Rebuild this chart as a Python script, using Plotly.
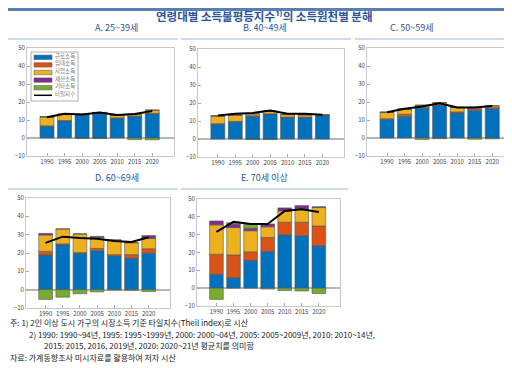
import plotly.graph_objects as go

years = [1990, 1995, 2000, 2005, 2010, 2015, 2020]
y_ticks = [-10, 0, 10, 20, 30, 40, 50]

series_names = ["근로소득", "임대소득", "사업소득", "재산소득", "기타소득"]
line_name = "타일지수"
panel_titles = ["A. 25~39세", "B. 40~49세", "C. 50~59세", "D. 60~69세", "E. 70세 이상"]

# Panel A: 25~39
a_labor = [6.5, 9.5, 12.9, 14.0, 11.0, 12.0, 13.5]
a_rent = [0.3, 0.2, 0.0, 0.0, 0.2, 0.2, 0.2]
a_biz = [5.0, 3.5, 0.3, 0.2, 1.3, 1.0, 1.8]
a_prop = [0, 0, 0, 0, 0, 0, 0]
a_other = [0, 0, -0.3, -0.3, 0, -0.9, -1.0]
a_theil = [11.5, 13.5, 13.0, 14.2, 12.8, 13.3, 15.0]

# Panel B: 40~49
b_labor = [8.2, 9.5, 12.7, 14.0, 12.0, 12.0, 13.0]
b_rent = [0.3, 0.3, 0.2, 0.0, 0.2, 0.2, 0.0]
b_biz = [4.3, 3.5, 1.1, 1.5, 1.4, 1.3, 0.4]
b_prop = [0, 0, 0, 0, 0, 0, 0]
b_other = [0, 0, -0.3, -0.3, 0, 0, 0]
b_theil = [13.0, 14.0, 14.5, 15.8, 14.0, 14.0, 13.5]

# Panel C: 50~59
c_labor = [10.4, 12.0, 16.6, 18.1, 13.9, 15.4, 16.3]
c_rent = [0.3, 1.2, 0.4, 0.3, 0.6, 0.9, 0.6]
c_biz = [3.6, 2.8, 1.2, 1.2, 2.5, 0.7, 1.0]
c_prop = [0, 0, 0, 0, 0, 0, 0]
c_other = [0, 0, -0.8, -0.4, 0, -0.7, -0.5]
c_theil = [14.3, 16.2, 17.5, 19.3, 17.0, 17.0, 17.8]

# Panel D: 60~69
d_labor = [18.9, 24.5, 19.8, 21.3, 18.4, 17.2, 19.9]
d_rent = [2.0, 0.5, 0.4, 1.2, 0.7, 1.9, 2.4]
d_biz = [8.9, 8.1, 10.2, 6.0, 8.0, 6.5, 5.6]
d_prop = [0.9, 0, 0, 0.6, 0, 0, 1.6]
d_other = [-5.3, -4.1, -2.2, -1.2, -0.2, -0.3, -1.0]
d_theil = [25.5, 28.9, 28.2, 27.8, 26.6, 26.0, 28.6]

# Panel E: 70+
e_labor = [7.8, 5.9, 15.6, 20.6, 29.9, 29.4, 23.8]
e_rent = [11.2, 12.7, 4.8, 7.8, 7.1, 7.6, 11.1]
e_biz = [16.5, 15.4, 11.8, 6.0, 6.3, 7.5, 10.3]
e_prop = [2.2, 1.9, 1.4, 1.6, 1.7, 1.8, 0.5]
e_other = [-6.3, 0.8, 2.2, -0.5, -1.3, -1.6, -3.0]
e_theil = [31.6, 37.2, 36.0, 36.0, 43.3, 44.3, 42.7]

panels = [
    [a_labor, a_rent, a_biz, a_prop, a_other, a_theil],
    [b_labor, b_rent, b_biz, b_prop, b_other, b_theil],
    [c_labor, c_rent, c_biz, c_prop, c_other, c_theil],
    [d_labor, d_rent, d_biz, d_prop, d_other, d_theil],
    [e_labor, e_rent, e_biz, e_prop, e_other, e_theil],
]

colors = ["#0072BD", "#D95319", "#EDB120", "#7E2F8E", "#77AC30"]

W, H = 512, 368
# plot areas in pixels: (x0, x1, ytop, ybottom)
boxes = [
    (19, 166, 40, 148),
    (190, 336, 41, 149),
    (359, 506, 40, 148),
    (18, 162, 190, 300),
    (189, 332, 191, 298),
]
title_pos = [(86, 19.5), (257, 19.5), (427, 19.5), (86, 169), (256, 169)]

fig = go.Figure()
layout = dict(
    width=W, height=H, margin=dict(l=0, r=0, t=0, b=0),
    paper_bgcolor="white", plot_bgcolor="white",
    barmode="relative", showlegend=False,
    font=dict(family="Noto Sans CJK KR, Noto Sans, sans-serif", size=7, color="#444"),
)

for i, p in enumerate(panels):
    n = i + 1
    xa = "x" if n == 1 else f"x{n}"
    ya = "y" if n == 1 else f"y{n}"
    for k in range(5):
        fig.add_trace(go.Bar(
            x=years, y=p[k], width=4, name=series_names[k],
            marker=dict(color=colors[k], line=dict(color="#555", width=0.6)),
            xaxis=xa, yaxis=ya,
        ))
    fig.add_trace(go.Scatter(
        x=years, y=p[5], mode="lines", name=line_name,
        line=dict(color="black", width=2),
        xaxis=xa, yaxis=ya,
    ))
    x0, x1, yt, yb = boxes[i]
    xkey = "xaxis" if n == 1 else f"xaxis{n}"
    ykey = "yaxis" if n == 1 else f"yaxis{n}"
    layout[xkey] = dict(
        domain=[x0 / W, x1 / W], anchor=ya, range=[1984.3, 2026.2],
        tickvals=years, ticktext=[str(y) for y in years], tickangle=0,
        showline=True, mirror=True, linecolor="#c8c8c8", linewidth=1,
        ticks="inside", ticklen=3, tickcolor="#aaa", showgrid=False, zeroline=False,
        tickfont=dict(size=6, color="#444"), automargin=False,
    )
    layout[ykey] = dict(
        domain=[1 - yb / H, 1 - yt / H], anchor=xa, range=[-10, 50],
        tickvals=y_ticks, showline=True, mirror=True, linecolor="#c8c8c8", linewidth=1,
        ticks="inside", ticklen=3, tickcolor="#aaa", showgrid=False,
        zeroline=True, zerolinecolor="#b5b5b5", zerolinewidth=1.5,
        tickfont=dict(size=6, color="#444"), automargin=False,
    )

fig.update_layout(**layout)

# manual legend in panel A
fig.add_shape(type="rect", xref="paper", yref="paper", x0=23 / W, x1=70 / W,
              y0=1 - 93 / H, y1=1 - 44 / H, fillcolor="white",
              line=dict(color="#999", width=0.8))
leg_labels = series_names + [line_name]
for j, lab in enumerate(leg_labels):
    cy = 49.3 + j * 7.6
    if j < 5:
        fig.add_shape(type="rect", xref="paper", yref="paper", x0=26 / W, x1=44 / W,
                      y0=1 - (cy + 2.2) / H, y1=1 - (cy - 2.2) / H,
                      fillcolor=colors[j], line=dict(color="#555", width=0.5))
    else:
        fig.add_shape(type="line", xref="paper", yref="paper", x0=26 / W, x1=44 / W,
                      y0=1 - cy / H, y1=1 - cy / H, line=dict(color="black", width=1.5))
    fig.add_annotation(x=46 / W, y=1 - (cy - 1.5) / H, xref="paper", yref="paper", text=lab,
                       showarrow=False, xanchor="left", yanchor="middle", borderpad=0,
                       font=dict(size=5.5, color="#777"))

# top band and title
fig.add_shape(type="rect", xref="paper", yref="paper", x0=0, x1=1, y0=1 - 3 / H, y1=1,
              fillcolor="#5a7db3", line=dict(width=0), layer="below")
fig.add_annotation(x=0.5, y=1 - 8 / H, xref="paper", yref="paper",
                   text="<b>연령대별 소득불평등지수¹⁾의 소득원천별 분해</b>",
                   showarrow=False, font=dict(size=11.5, color="#2a5598"), yanchor="middle",
                   borderpad=0)

for i, t in enumerate(panel_titles):
    cx, cy = title_pos[i]
    fig.add_annotation(x=cx / W, y=1 - cy / H, xref="paper", yref="paper", text=t,
                       showarrow=False, font=dict(size=9, color="#2a5598"), yanchor="middle",
                       borderpad=0)

# underlines
for (ux0, ux1, uy) in [(0, 170, 31), (173, 343, 31), (347, 512, 31), (0, 170, 181), (173, 340, 181)]:
    fig.add_shape(type="line", xref="paper", yref="paper", x0=ux0 / W, x1=ux1 / W,
                  y0=1 - uy / H, y1=1 - uy / H, line=dict(color="#9db6dc", width=1))

notes = [
    (1, 314, "주: 1) 2인 이상 도시 가구의 시장소득 기준 타일지수(Theil index)로 시산"),
    (20, 326, "2) 1990: 1990~94년, 1995: 1995~1999년, 2000: 2000~04년, 2005: 2005~2009년, 2010: 2010~14년,"),
    (35, 337.5, "2015: 2015, 2016, 2019년, 2020: 2020~21년 평균치를 의미함"),
    (1, 349, "자료: 가계동향조사 미시자료를 활용하여 저자 시산"),
]
for nx, ny, txt in notes:
    fig.add_annotation(x=nx / W, y=1 - ny / H, xref="paper", yref="paper", text=txt,
                       showarrow=False, xanchor="left", yanchor="middle", borderpad=0,
                       font=dict(size=8, color="#222"))

fig.write_html("out.html")
